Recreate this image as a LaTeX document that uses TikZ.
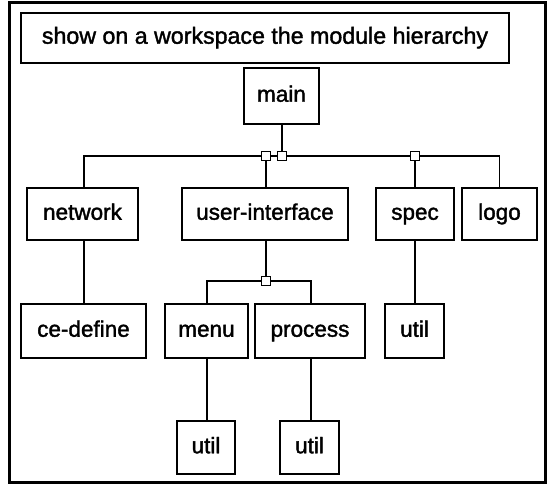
\documentclass[tikz,border=0pt]{standalone}
\usepackage{fontspec}
\setmainfont[FakeBold=1.6]{Liberation Sans}
\newcommand\boxfont{\fontsize{22.5}{26}\selectfont}
\newcommand\titlefont{\fontsize{23.2}{27}\selectfont}
\tikzset{
  modbox/.style={draw, line width=2.4pt, inner sep=0pt, font=\boxfont, anchor=center, text height=16pt, text depth=4.5pt},
  jsq/.style={draw, line width=1.5pt, fill=white, minimum size=9pt, inner sep=0pt},
  conn/.style={line width=1.4pt},
}
\begin{document}
\begin{tikzpicture}[x=1pt,y=-1pt]
\useasboundingbox (0,0) rectangle (551,484);
\draw[line width=3pt] (9,3) rectangle (545,482);
\node[modbox, font=\titlefont, minimum width=488pt, minimum height=50pt] (title) at (265,38) {show on a workspace the module hierarchy};
\node[modbox, minimum width=75pt, minimum height=56pt] (main) at (281.5,96) {main};
\node[modbox, minimum width=111pt, minimum height=52pt] (network) at (82.5,214) {network};
\node[modbox, minimum width=166pt, minimum height=52pt] (ui) at (265,214) {user-interface};
\node[modbox, minimum width=78pt, minimum height=52pt] (spec) at (415,214) {spec};
\node[modbox, minimum width=75pt, minimum height=52pt] (logo) at (499.5,214) {logo};
\node[modbox, minimum width=125pt, minimum height=54pt] (cedef) at (83.5,331) {ce-define};
\node[modbox, minimum width=83pt, minimum height=54pt] (menu) at (206.5,331) {menu};
\node[modbox, minimum width=110pt, minimum height=54pt] (process) at (310,331) {process};
\node[modbox, minimum width=59pt, minimum height=54pt] (util3) at (414.5,331) {util};
\node[modbox, minimum width=58pt, minimum height=53pt] (util1) at (206,447.5) {util};
\node[modbox, minimum width=59pt, minimum height=53pt] (util2) at (309.5,447.5) {util};
% junctions
\node[jsq] (j1) at (266,156) {};
\node[jsq] (j2) at (282,156) {};
\node[jsq] (j3) at (415,156) {};
\node[jsq] (j4) at (266,281) {};
\coordinate (nw) at (84,156);
\coordinate (lg) at (499.5,156);
\coordinate (mn) at (207,281);
\coordinate (pr) at (311,281);
% connectors
\draw[conn] (main.south -| j2) -- (j2.north);
\draw[conn] (network.north -| nw) -- (nw) -- (j1.west);
\draw[conn] (j1.east) -- (j2.west);
\draw[conn] (j2.east) -- (j3.west);
\draw[conn] (j3.east) -- (lg) -- (logo.north);
\draw[conn] (j1.south) -- (j1 |- ui.north);
\draw[conn] (j3.south) -- (spec.north);
\draw[conn] (ui.south -| j4) -- (j4.north);
\draw[conn] (j4.west) -- (mn) -- (menu.north -| mn);
\draw[conn] (j4.east) -- (pr) -- (process.north -| pr);
\draw[conn] (network.south -| nw) -- (cedef.north -| nw);
\draw[conn] (spec.south) -- (util3.north -| spec.south);
\draw[conn] (menu.south -| mn) -- (util1.north -| mn);
\draw[conn] (process.south -| pr) -- (util2.north -| pr);
\end{tikzpicture}
\end{document}
